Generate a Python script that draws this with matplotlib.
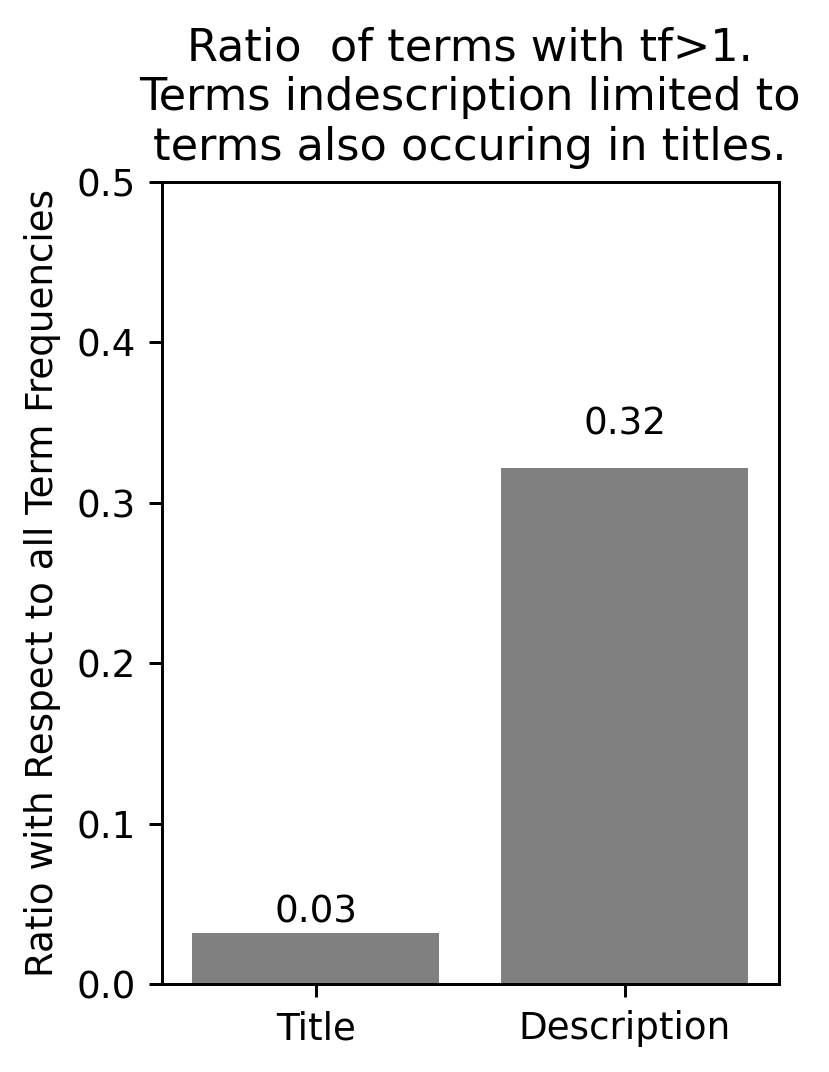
import matplotlib
matplotlib.use("Agg")
import matplotlib.pyplot as plt

# data
categories = ["Title", "Description"]
ratios = [0.032, 0.3217]

DPI = 268
W, H = 829, 1072
fig = plt.figure(figsize=(W / DPI, H / DPI), dpi=DPI)
ax = fig.add_axes([161.5 / W, 1 - 984 / H, (779 - 161.5) / W, (984 - 182) / H])

x = list(range(len(categories)))
ax.bar(x, ratios, width=0.8, color="grey")

for xi, r in zip(x, ratios):
    ax.text(xi, r * 1.05, "%.2f" % r, ha="center", va="bottom", fontsize=10)

ax.set_xticks(x)
ax.set_xticklabels(categories)
ax.set_xlim(-0.5, 1.5)
ax.set_ylim(0, 0.5)
ax.set_yticks([0.0, 0.1, 0.2, 0.3, 0.4, 0.5])
ax.set_ylabel("Ratio with Respect to all Term Frequencies")
ax.set_title("Ratio  of terms with tf>1.\nTerms indescription limited to\nterms also occuring in titles.")

fig.savefig("out.png", dpi=DPI)
